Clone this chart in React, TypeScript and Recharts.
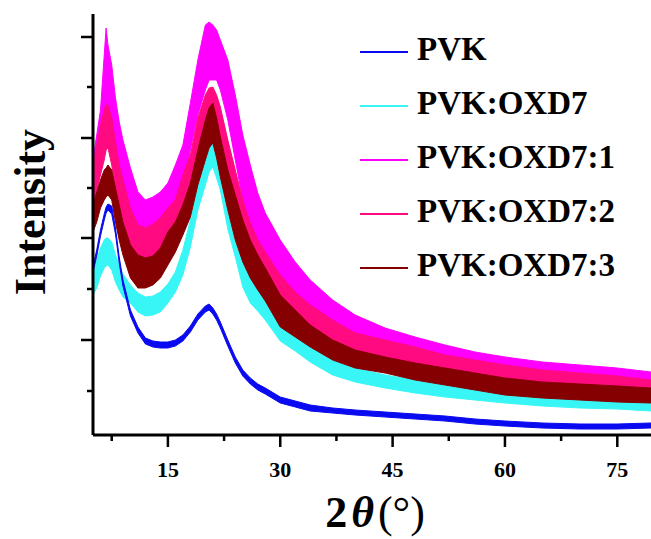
import { ComposedChart, Area, XAxis, YAxis, Label } from "recharts";

// 2θ positions (degrees) where the band edges were read
const twoTheta = [
  5, 5.5, 6, 6.5, 6.75, 7, 7.5, 8, 8.5, 9,
  10, 11, 12, 13, 14, 15, 16, 17, 18, 19,
  20, 20.5, 21, 21.5, 22, 23, 24, 25, 26, 27,
  28, 30, 32, 34, 37, 40, 44, 48, 52, 56,
  60, 65, 70, 75, 79.5,
];

// intensity (a.u.) as [low, high] of the noisy trace
const pvk: [number, number][] = [
  [163, 169], [179, 185], [199, 205], [215, 221], [222, 228], [225, 231], [221, 229], [201, 207], [172, 178], [149, 155],
  [119, 125], [102, 108], [91, 97], [88, 94], [87, 93], [87, 93], [89, 95], [94, 100], [103, 109], [115, 121],
  [123, 129], [125, 131], [121, 127], [115, 121], [107, 113], [89, 95], [72, 78], [59, 65], [51, 57], [45, 51],
  [41, 47], [32, 38], [28, 34], [24, 30], [22, 27], [20, 25], [18, 23], [16, 21], [14, 19], [11, 16],
  [9, 14], [7, 12], [6, 11], [6, 11], [7, 12],
];

const pvkOxd7: [number, number][] = [
  [140, 167], [147, 175], [159, 187], [167, 195], [169, 197], [170, 197], [165, 193], [153, 180], [145, 170], [138, 161],
  [132, 150], [123, 142], [119, 138], [120, 139], [123, 143], [132, 151], [143, 163], [160, 185], [188, 215], [225, 250],
  [250, 275], [263, 290], [268, 295], [257, 285], [245, 272], [206, 240], [178, 212], [148, 180], [132, 160], [124, 150],
  [115, 140], [94, 115], [84, 100], [73, 88], [60, 75], [53, 67], [47, 60], [42, 55], [38, 50], [35, 45],
  [32, 42], [29, 38], [27, 36], [26, 35], [24, 33],
];

const pvkOxd7r1: [number, number][] = [
  [247, 277], [263, 300], [275, 325], [305, 380], [327, 407], [320, 390], [310, 370], [280, 337], [263, 313], [247, 295],
  [225, 267], [203, 243], [195, 235], [199, 238], [205, 243], [213, 252], [235, 270], [245, 290], [285, 332], [320, 375],
  [345, 410], [355, 413], [355, 410], [355, 405], [345, 395], [315, 375], [275, 340], [235, 300], [205, 270], [185, 242],
  [173, 222], [145, 195], [130, 173], [117, 155], [103, 135], [92, 120], [83, 107], [75, 98], [68, 90], [62, 83],
  [57, 78], [53, 73], [51, 70], [48, 67], [45, 63],
];

const pvkOxd7r2: [number, number][] = [
  [230, 270], [245, 290], [260, 310], [275, 325], [285, 330], [287, 330], [270, 317], [247, 293], [230, 270], [215, 255],
  [187, 227], [175, 210], [173, 207], [177, 211], [183, 217], [190, 227], [200, 235], [220, 260], [245, 280], [277, 317],
  [300, 340], [315, 347], [317, 348], [300, 340], [285, 328], [245, 295], [215, 265], [185, 235], [165, 212], [155, 195],
  [143, 183], [123, 160], [110, 143], [102, 130], [90, 115], [80, 102], [73, 95], [65, 88], [60, 80], [55, 75],
  [50, 70], [47, 65], [45, 62], [42, 59], [39, 55],
];

const pvkOxd7r3: [number, number][] = [
  [203, 230], [213, 243], [227, 255], [235, 265], [238, 267], [240, 270], [235, 265], [213, 247], [195, 230], [180, 213],
  [157, 190], [147, 180], [147, 177], [150, 179], [157, 187], [170, 203], [183, 213], [200, 230], [218, 252], [250, 285],
  [275, 315], [287, 327], [292, 332], [277, 317], [258, 298], [225, 265], [195, 240], [173, 215], [157, 195], [145, 180],
  [134, 167], [108, 140], [98, 125], [88, 110], [75, 95], [67, 85], [62, 78], [55, 72], [50, 67], [45, 62],
  [40, 57], [37, 53], [35, 51], [33, 49], [32, 47],
];

const seriesNames = ["PVK", "PVK:OXD7", "PVK:OXD7:1", "PVK:OXD7:2", "PVK:OXD7:3"];
const seriesColors = ["#0a0af0", "#38f6f6", "#ff00ff", "#ff0a80", "#850000"];

const xTicks = [7.5, 15, 22.5, 30, 37.5, 45, 52.5, 60, 67.5, 75];
const yTicks = [44, 95, 146, 197, 247, 297, 348, 398];
const yMajor = [95, 197, 297, 398];

const data = twoTheta.map((x, i) => ({
  x,
  s0: pvk[i],
  s1: pvkOxd7[i],
  s2: pvkOxd7r1[i],
  s3: pvkOxd7r2[i],
  s4: pvkOxd7r3[i],
}));

const FONT = "'Liberation Serif', 'Times New Roman', serif";
const AXIS_Y = 435;
const AXIS_X = 93;

const XTick = (props: any) => {
  const v = props.payload.value;
  const major = v % 15 === 0;
  return (
    <g>
      <line x1={props.x} x2={props.x} y1={AXIS_Y} y2={AXIS_Y + (major ? 12 : 6)} stroke="#000" strokeWidth={2.5} />
      {major && (
        <text x={props.x} y={477} textAnchor="middle" fontFamily={FONT} fontWeight="bold" fontSize={22} fill="#000">
          {v}
        </text>
      )}
    </g>
  );
};

const YTick = (props: any) => {
  const major = yMajor.includes(props.payload.value);
  return <line x1={AXIS_X - (major ? 12 : 6)} x2={AXIS_X} y1={props.y} y2={props.y} stroke="#000" strokeWidth={2.5} />;
};

const LegendBox = () => (
  <div style={{ position: "absolute", left: 360, top: 22, fontFamily: FONT, fontWeight: "bold", fontSize: 33 }}>
    {seriesNames.map((n, i) => (
      <div key={n} style={{ display: "flex", alignItems: "center", height: 54 }}>
        <div style={{ width: 48, height: 2, background: seriesColors[i], marginTop: 5, marginRight: 9 }} />
        <span style={{ color: "#000", lineHeight: "54px" }}>{n}</span>
      </div>
    ))}
  </div>
);

// drawn order: cyan, magenta, pink, dark red, blue on top
const drawOrder = [1, 2, 3, 4, 0];

export default function App() {
  return (
    <div style={{ position: "absolute", left: 0, top: 0, width: 651, height: 539, background: "#fff" }}>
      <ComposedChart width={651} height={539} data={data} margin={{ top: 14, right: 0, bottom: 0, left: 33 }}>
        <XAxis
          dataKey="x"
          type="number"
          domain={[5, 79.5]}
          allowDataOverflow
          ticks={xTicks}
          interval={0}
          tick={XTick}
          tickLine={false}
          axisLine={{ stroke: "#000", strokeWidth: 3 }}
          height={104}
        >
          <Label
            content={() => (
              <text x={375} y={527} textAnchor="middle" fontFamily={FONT} fontSize={44} fill="#000">
                <tspan fontWeight="bold">2</tspan>
                <tspan fontWeight="bold" fontStyle="italic" dx={4}>θ</tspan>
                <tspan dx={4}>(°)</tspan>
              </text>
            )}
          />
        </XAxis>
        <YAxis
          type="number"
          domain={[0, 421]}
          ticks={yTicks}
          interval={0}
          tick={YTick}
          tickLine={false}
          axisLine={{ stroke: "#000", strokeWidth: 3 }}
          width={60}
        >
          <Label
            content={() => (
              <text
                x={45}
                y={212}
                transform="rotate(-90, 45, 212)"
                textAnchor="middle"
                fontFamily={FONT}
                fontWeight="bold"
                fontSize={44}
                fill="#000"
              >
                Intensity
              </text>
            )}
          />
        </YAxis>
        {drawOrder.map((i) => (
          <Area
            key={i}
            type="linear"
            dataKey={`s${i}`}
            name={seriesNames[i]}
            stroke={seriesColors[i]}
            strokeWidth={1}
            fill={seriesColors[i]}
            fillOpacity={1}
            dot={false}
            activeDot={false}
            isAnimationActive={false}
          />
        ))}
      </ComposedChart>
      <LegendBox />
    </div>
  );
}
